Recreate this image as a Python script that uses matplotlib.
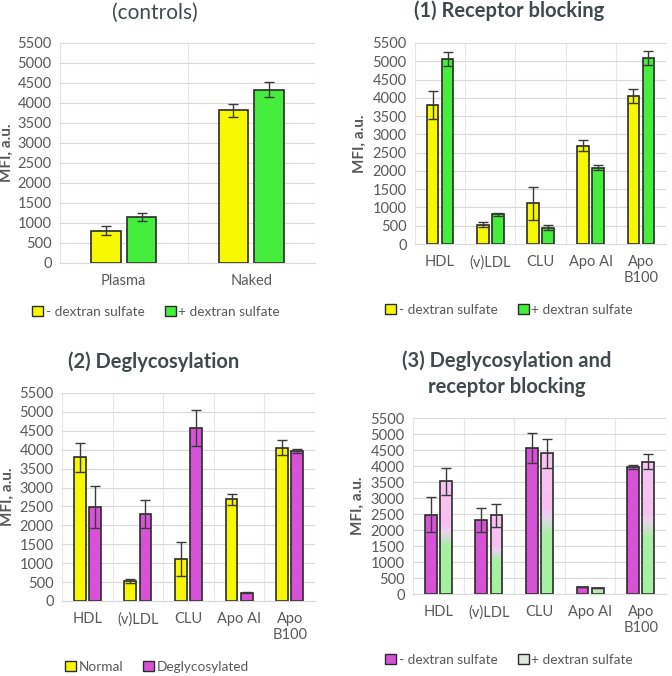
import numpy as np
import matplotlib
matplotlib.use("Agg")
import matplotlib.pyplot as plt
from matplotlib.patches import Patch
from matplotlib.colors import LinearSegmentedColormap

plt.rcParams['font.family'] = ['Lato', 'DejaVu Sans']

# data
ctrl_cats = ['Plasma', 'Naked']
ctrl_minus = [810, 3820]
ctrl_minus_err = [105, 160]
ctrl_plus = [1150, 4330]
ctrl_plus_err = [95, 190]

cats = ['HDL', '(v)LDL', 'CLU', 'Apo AI', 'Apo\nB100']
normal = [3800, 530, 1110, 2690, 4050]
normal_err = [380, 60, 455, 150, 200]
rb_plus = [5060, 810, 450, 2090, 5090]
rb_plus_err = [190, 40, 60, 60, 200]
degly = [2480, 2300, 4570, 220, 3970]
degly_err = [550, 375, 470, 10, 60]
degly_plus = [3520, 2460, 4400, 190, 4140]
degly_plus_err = [420, 365, 450, 10, 235]

YELLOW = '#f7f700'
GREEN = '#45ee3c'
MAGENTA = '#d852d8'
TXT = '#595959'
TITLE = '#404a4c'
EDGE = '#2b2b2b'

W, H = 672, 676
fig = plt.figure(figsize=(W / 100, H / 100), dpi=100)


def px_axes(l, t, r, b):
    return fig.add_axes([l / W, 1 - b / H, (r - l) / W, (b - t) / H])


def style(ax, n, lab_x):
    ax.set_xlim(-0.5, n - 0.5)
    ax.set_ylim(0, 5500)
    ax.set_yticks(np.arange(0, 5501, 500))
    ax.set_xticks(np.arange(-0.5, n, 0.5), minor=True)
    ax.grid(axis='y', color='#d9d9d9', lw=0.8)
    ax.grid(axis='x', which='minor', color='#e6e6e6', lw=0.8)
    ax.set_axisbelow(True)
    for s in ['top', 'right', 'left']:
        ax.spines[s].set_visible(False)
    ax.spines['bottom'].set_color('#d9d9d9')
    ax.tick_params(axis='both', which='both', length=0, colors=TXT, labelsize=10.5)
    ax.tick_params(axis='x', pad=8)
    ax.tick_params(axis='y', pad=6)
    ax.set_ylabel('MFI, a.u.', color=TXT, fontsize=11, fontweight='bold', va='center')
    ax.yaxis.set_label_coords(lab_x, 0.5)


def bars(ax, x, vals, errs, color, off):
    b = ax.bar(x + off, vals, width=0.23, color=color, edgecolor=EDGE, lw=1.2, zorder=2)
    ax.errorbar(x + off, vals, yerr=errs, fmt='none', ecolor='#3a3a3a', elinewidth=1,
                capsize=3.5, capthick=1, zorder=3)
    return b


def legend(cx, cy, handles, labels):
    fig.legend(handles, labels, loc='center', bbox_to_anchor=(cx / W, 1 - cy / H), ncol=2,
               frameon=False, fontsize=9.8, handlelength=0.8, handleheight=0.8,
               handletextpad=0.2, columnspacing=1.5, labelcolor=TXT)


def sq(color):
    return Patch(facecolor=color, edgecolor=EDGE, lw=1)


# (controls)
ax1 = px_axes(60, 43, 315, 263)
x = np.arange(len(ctrl_cats))
bars(ax1, x, ctrl_minus, ctrl_minus_err, YELLOW, -0.14)
bars(ax1, x, ctrl_plus, ctrl_plus_err, GREEN, 0.14)
ax1.set_xticks(x)
ax1.set_xticklabels(ctrl_cats)
style(ax1, 2, -0.208)
fig.text(155 / W, 1 - 13 / H, '(controls)', ha='center', va='center', fontsize=15, color=TITLE)
legend(156, 312, [sq(YELLOW), sq(GREEN)], ['- dextran sulfate', '+ dextran sulfate'])

# (1) Receptor blocking
x = np.arange(len(cats))
ax2 = px_axes(415, 43, 666, 244)
bars(ax2, x, normal, normal_err, YELLOW, -0.15)
bars(ax2, x, rb_plus, rb_plus_err, GREEN, 0.15)
ax2.set_xticks(x)
ax2.set_xticklabels(cats)
style(ax2, 5, -0.219)
fig.text(509 / W, 1 - 11 / H, '(1) Receptor blocking', ha='center', va='center', fontsize=14.5,
         fontweight='bold', color=TITLE)
legend(509, 310, [sq(YELLOW), sq(GREEN)], ['- dextran sulfate', '+ dextran sulfate'])

# (2) Deglycosylation
ax3 = px_axes(62, 393, 315, 601)
bars(ax3, x, normal, normal_err, YELLOW, -0.15)
bars(ax3, x, degly, degly_err, MAGENTA, 0.15)
ax3.set_xticks(x)
ax3.set_xticklabels(cats)
style(ax3, 5, -0.213)
fig.text(154 / W, 1 - 362 / H, '(2) Deglycosylation', ha='center', va='center', fontsize=14.5,
         fontweight='bold', color=TITLE)
legend(157, 667, [sq(YELLOW), sq(MAGENTA)], ['Normal', 'Deglycosylated'])

# (3) Deglycosylation and receptor blocking
ax4 = px_axes(413, 418, 666, 594)
bars(ax4, x, degly, degly_err, MAGENTA, -0.15)
gb = bars(ax4, x, degly_plus, degly_plus_err, 'none', 0.15)
grad = LinearSegmentedColormap.from_list(
    'gp', [(0, '#a4f2a0'), (0.42, '#a8f0a4'), (0.55, '#ead4ee'), (0.62, '#f7c0f2'), (1, '#f8c4f2')])
for p in gb:
    x0, y0 = p.get_x(), p.get_y()
    w, h = p.get_width(), p.get_height()
    im = ax4.imshow(np.linspace(0, 1, 100).reshape(-1, 1), cmap=grad, origin='lower', aspect='auto',
                    extent=[x0, x0 + w, y0, y0 + h], zorder=1.9)
    im.set_clip_path(p)
ax4.set_aspect('auto')
ax4.set_xticks(x)
ax4.set_xticklabels(cats)
style(ax4, 5, -0.217)
fig.text(507 / W, 1 - 374 / H, '(3) Deglycosylation and\nreceptor blocking', ha='center', va='center',
         fontsize=14.5, fontweight='bold', color=TITLE, linespacing=1.35)
legend(509, 660, [sq(MAGENTA), sq('#e0e8e0')], ['- dextran sulfate', '+ dextran sulfate'])

fig.savefig('out.png', dpi=100)
